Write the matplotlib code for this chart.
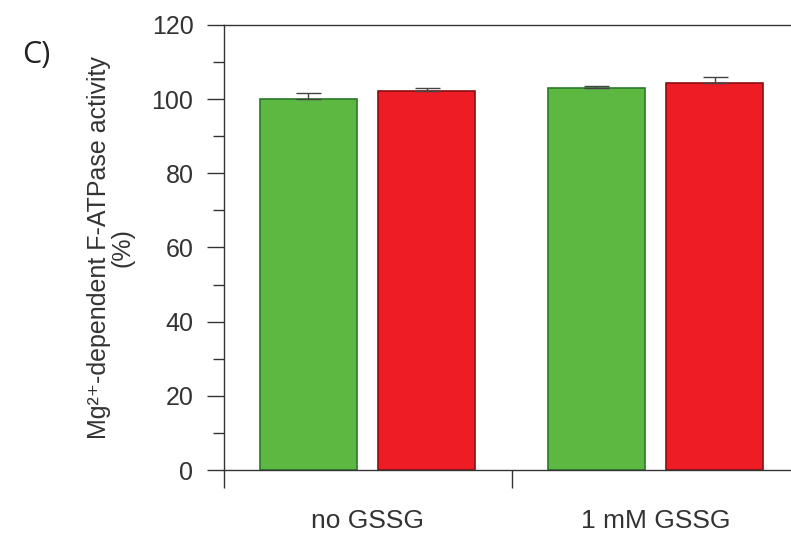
import matplotlib
matplotlib.use("Agg")
from matplotlib import pyplot as plt
from matplotlib.ticker import MultipleLocator, FixedLocator, NullFormatter
import numpy as np

groups = ["no GSSG", "1 mM GSSG"]
green_vals = [100.0, 103.0]
green_err = [1.6, 0.5]
red_vals = [102.2, 104.4]
red_err = [0.8, 1.6]

plt.rcParams['font.family'] = ['Liberation Sans', 'DejaVu Sans']

fig = plt.figure(figsize=(7.91, 5.36), dpi=100)
ax = fig.add_axes([0.2832, 0.1231, 0.7168, 0.8303])

pos = np.arange(len(groups))
w = 0.337
ax.bar(pos + 0.293, green_vals, w, color='#5cb840', edgecolor='#2a7a2a', linewidth=1.2,
       yerr=[np.zeros(2), green_err], capsize=9,
       error_kw=dict(ecolor='#444444', elinewidth=1.0, capthick=1.0))
ax.bar(pos + 0.705, red_vals, w, color='#ee1c24', edgecolor='#8a1010', linewidth=1.2,
       yerr=[np.zeros(2), red_err], capsize=9,
       error_kw=dict(ecolor='#444444', elinewidth=1.0, capthick=1.0))

ax.set_xlim(0, 1.97)
ax.set_ylim(0, 120)

ax.xaxis.set_major_locator(FixedLocator([0, 1, 2]))
ax.xaxis.set_major_formatter(NullFormatter())
ax.xaxis.set_minor_locator(FixedLocator(pos + 0.5))
ax.set_xticklabels(groups, minor=True)
ax.tick_params(axis='x', which='major', direction='out', length=13, width=1.0, color='#333333')
ax.tick_params(axis='x', which='minor', length=0, pad=28, labelsize=19, labelcolor='#333333')

ax.yaxis.set_major_locator(MultipleLocator(20))
ax.yaxis.set_minor_locator(MultipleLocator(10))
ax.tick_params(axis='y', which='major', direction='out', length=12, width=1.0, color='#333333',
               pad=10, labelsize=18, labelcolor='#333333')
ax.tick_params(axis='y', which='minor', direction='out', length=8, width=1.0, color='#333333')

for s in ['left', 'bottom', 'top']:
    ax.spines[s].set_color('#333333')
    ax.spines[s].set_linewidth(1.0)
ax.spines['right'].set_visible(False)

ax.set_ylabel("Mg²⁺-dependent F-ATPase activity\n(%)", fontsize=18, color='#333333',
              labelpad=12, linespacing=1.0)

fig.text(0.028, 0.882, "C)", fontsize=22, family='Open Sans', color='#222222')

fig.savefig("out.png", dpi=100)
